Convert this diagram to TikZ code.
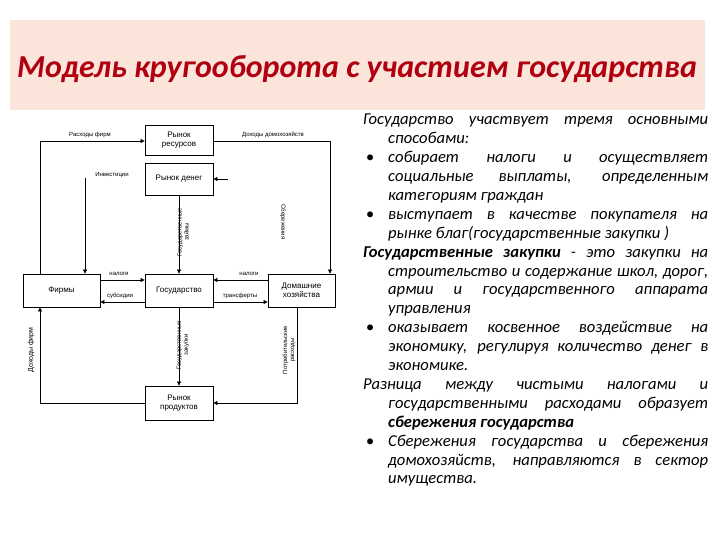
\documentclass[tikz,border=0pt]{standalone}
\usepackage{fontspec}
\setmainfont{Carlito}
\newfontfamily\diag{Liberation Sans}
\usetikzlibrary{arrows.meta}
\definecolor{band}{HTML}{FBE5DA}
\definecolor{ttl}{HTML}{B00010}
\begin{document}
\begin{tikzpicture}[x=1pt,y=-1pt,
 box/.style={draw,line width=0.8pt,minimum width=68pt,font=\diag\fontsize{8}{9}\selectfont,align=center,inner sep=1pt},
 lbl/.style={font=\diag\fontsize{6}{7}\selectfont,inner sep=1pt,align=center},
 flow/.style={line width=0.7pt,-{Triangle[length=4pt,width=4pt]}},
 ln/.style={line width=0.7pt}]
\useasboundingbox (0,0) rectangle (720,540);
\fill[band] (10,20) rectangle (705,110);
\node[font=\bfseries\itshape\fontsize{32}{36}\selectfont,text=ttl] (title) at (357,69) {Модель кругооборота с участием государства};
% boxes
\node[box,minimum height=30pt] (res) at (179,140) {Рынок\\ресурсов};
\node[box,minimum height=32pt] (money) at (179,179) {Рынок денег};
\node[box,minimum width=77pt,minimum height=33pt] (firm) at (61.5,290.5) {Фирмы};
\node[box,minimum height=33pt] (gov) at (179,290.5) {Государство};
\node[box,minimum width=67pt,minimum height=33pt] (hh) at (301.5,290.5) {Домашние\\хозяйства};
\node[box,minimum height=34pt] (prod) at (179,403) {Рынок\\продуктов};
% coordinates
\coordinate (c1) at (40,141);
\coordinate (c2) at (330,141);
\coordinate (c3) at (85,178);
\coordinate (c4) at (228,179);
\coordinate (c5) at (297,403);
\coordinate (c6) at (40,403);
\draw[flow] (firm.north -| c1) -- (c1) -- (res.west |- c1);
\draw[flow] (res.east |- c2) -- (c2) -- (hh.north -| c2);
\draw[flow] (c3) -- (firm.north -| c3);
\draw[flow] (c4) -- (money.east |- c4);
\draw[flow] (money.south) -- (gov.north);
\draw[flow] (gov.south) -- (prod.north);
\draw[flow] (firm.east |- 0,280) -- (gov.west |- 0,280);
\draw[flow] (gov.west |- 0,302) -- (firm.east |- 0,302);
\draw[flow] (hh.west |- 0,280) -- (gov.east |- 0,280);
\draw[flow] (gov.east |- 0,302) -- (hh.west |- 0,302);
\draw[flow] (hh.south -| c5) -- (c5) -- (prod.east |- c5);
\draw[flow] (prod.west |- c6) -- (c6) -- (firm.south -| c6);
% labels
\node[lbl] (l1) at (90,135) {Расходы фирм};
\node[lbl] (l2) at (273,135) {Доходы домохозяйств};
\node[lbl] (l3) at (112,175) {Инвестиции};
\node[lbl,rotate=-90] (l4) at (283,222) {Сбережения};
\node[lbl,rotate=90] (l5) at (183,232) {Государственные\\займы};
\node[lbl] (l6) at (119,274) {налоги};
\node[lbl] (l7) at (120,296) {субсидии};
\node[lbl] (l8) at (249,274) {налоги};
\node[lbl] (l9) at (240,296) {трансферты};
\node[lbl,rotate=90] (l10) at (183,345) {Государственные\\закупки};
\node[lbl,rotate=90] (l11) at (289,350) {Потребительские\\расходы};
\node[lbl,font=\diag\fontsize{7}{8}\selectfont,rotate=90] (l12) at (31,350) {Доходы фирм};
% text
\node[anchor=north west,inner sep=0pt,text width=345pt,font=\itshape\fontsize{16.6}{18.9}\selectfont,align=justify] (txt) at (363,114) {%
\hangindent=25pt\hangafter=1 Государство участвует тремя основными способами:\par
\hangindent=25pt\hangafter=0\noindent\llap{•\hspace{14pt}}собирает налоги и осуществляет социальные выплаты, определенным категориям граждан\par
\hangindent=25pt\hangafter=0\noindent\llap{•\hspace{14pt}}выступает в качестве покупателя на рынке благ(государственные закупки )\par
\hangindent=25pt\hangafter=1\noindent\textbf{Государственные закупки} - это закупки на строительство и содержание школ, дорог, армии и государственного аппарата управления\par
\hangindent=25pt\hangafter=0\noindent\llap{•\hspace{14pt}}оказывает косвенное воздействие на экономику, регулируя количество денег в экономике.\par
\hangindent=25pt\hangafter=1\noindent Разница между чистыми налогами и государственными расходами образует \textbf{сбережения государства}\par
\hangindent=25pt\hangafter=0\noindent\llap{•\hspace{14pt}}Сбережения государства и сбережения домохозяйств, направляются в сектор имущества.\par}; 
\end{tikzpicture}
\end{document}
